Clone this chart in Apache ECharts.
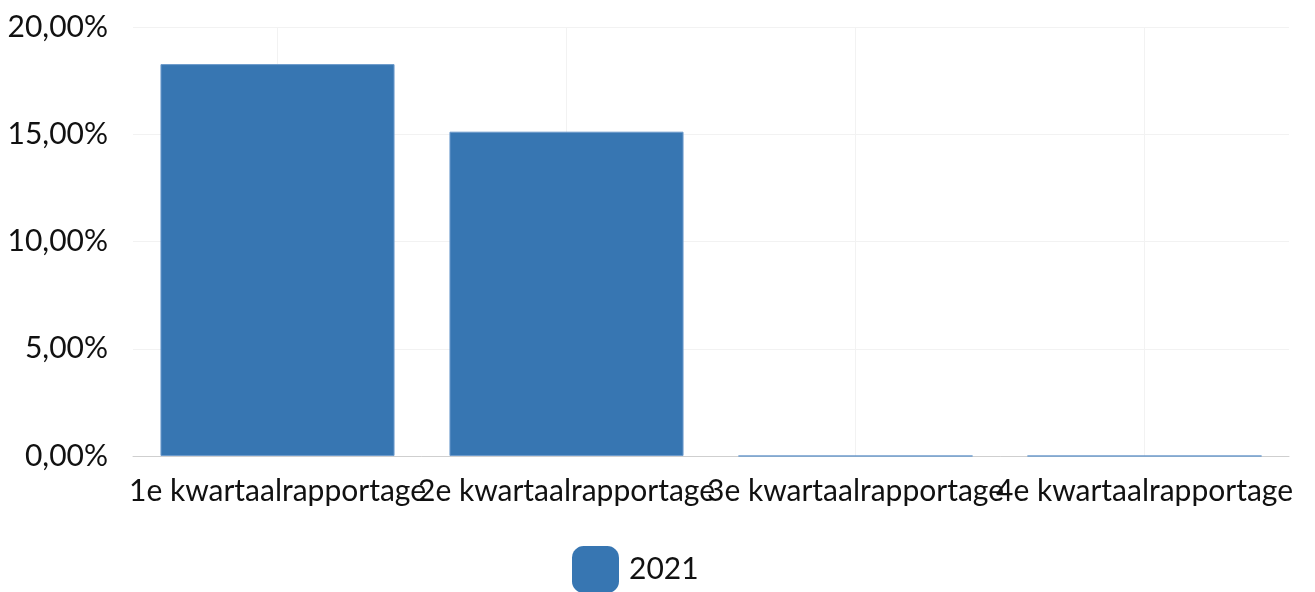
<!DOCTYPE html>
<html>
<head>
<meta charset="utf-8">
<script src="https://cdn.jsdelivr.net/npm/echarts@6/dist/echarts.min.js"></script>
<style>html,body{margin:0;padding:0;background:#fff;}#c{width:1315px;height:592px;}</style>
</head>
<body>
<div id="c"></div>
<script>
const categories = ['1e kwartaalrapportage', '2e kwartaalrapportage', '3e kwartaalrapportage', '4e kwartaalrapportage'];
const seriesName = '2021';
const values = [18.27, 15.12, 0, 0];
const yTicks = [0, 5, 10, 15, 20];

const chart = echarts.init(document.getElementById('c'), null, {renderer: 'canvas'});
const font = 'Lato, "Noto Sans", sans-serif';
chart.setOption({
  animation: false,
  grid: {left: 133, right: 26, top: 27, bottom: 136, containLabel: false},
  legend: {
    data: [seriesName], left: 567, top: 541,
    itemWidth: 47, itemHeight: 47, icon: 'roundRect', itemGap: 10,
    itemStyle: {borderWidth: 0},
    textStyle: {fontFamily: font, fontSize: 30, color: '#111', padding: [0, 0, 0, 5]}
  },
  xAxis: {
    type: 'category', data: categories,
    axisLine: {lineStyle: {color: '#cfcfcf', width: 1}},
    axisTick: {show: false},
    splitLine: {show: false},
    axisLabel: {interval: 0, fontFamily: font, fontSize: 30, color: '#111', margin: 20}
  },
  yAxis: {
    type: 'value', min: yTicks[0], max: yTicks[yTicks.length - 1], interval: 5,
    axisLine: {show: false}, axisTick: {show: false},
    splitLine: {lineStyle: {color: '#f2f2f2', width: 1}},
    axisLabel: {
      fontFamily: font, fontSize: 30, color: '#111', margin: 25,
      formatter: v => v.toFixed(2).replace('.', ',') + '%'
    }
  },
  series: [{
    name: seriesName, type: 'bar', data: values,
    barCategoryGap: '19%',
    itemStyle: {color: '#3776b2', borderColor: '#6d9bcc', borderWidth: 1},
    markLine: {
      silent: true, symbol: 'none', label: {show: false},
      lineStyle: {color: '#f2f2f2', type: 'solid', width: 1},
      z: 0,
      data: categories.map(c => ({xAxis: c}))
    }
  }]
});
</script>
</body>
</html>
